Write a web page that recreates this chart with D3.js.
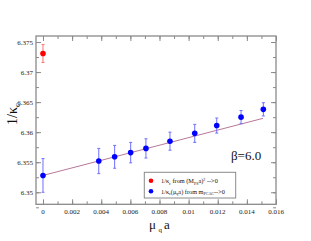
<!DOCTYPE html>
<html><head><meta charset="utf-8">
<script src="https://cdn.jsdelivr.net/npm/d3@7/dist/d3.min.js"></script>
<style>body{margin:0;background:#fff}svg{display:block}svg text{font-family:"Liberation Serif","Times New Roman",Times,"DejaVu Serif",serif}</style>
</head><body><svg id="c" width="311" height="241"></svg>
<script>
const xTicks = [0, 0.002, 0.004, 0.006, 0.008, 0.01, 0.012, 0.014, 0.016];
const xTickLabels = ["0", "0.002", "0.004", "0.006", "0.008", "0.01", "0.012", "0.014", "0.016"];
const yTicks = [6.35, 6.355, 6.36, 6.365, 6.37, 6.375];
const yTickLabels = ["6.35", "6.355", "6.36", "6.365", "6.37", "6.375"];
const redX = [0];
const redY = [6.3731];
const redErr = [0.0015];
const blueX = [0, 0.00383, 0.00492, 0.00602, 0.00707, 0.00872, 0.01042, 0.01193, 0.0136, 0.01513];
const blueY = [6.3528, 6.3552, 6.3559, 6.3566, 6.3573, 6.3585, 6.3598, 6.3611, 6.3625, 6.3638];
const blueErr = [0.0028, 0.0021, 0.0019, 0.0017, 0.0016, 0.0015, 0.0015, 0.00125, 0.0011, 0.0011];
const fitX = [0, 0.0151];
const fitY = [6.3528, 6.3623];

const svg = d3.select("#c");
const L = 36, R = 276, T = 36, B = 204.3;
const x = d3.scaleLinear().domain([-0.00048, 0.016]).range([L, R]);
const y = d3.scaleLinear().domain([6.348, 6.376]).range([B, T]);
const axisCol = "#8a8a8a";

svg.append("rect").attr("x", L).attr("y", T).attr("width", R - L).attr("height", B - T)
  .attr("fill", "none").attr("stroke", axisCol).attr("stroke-width", 1.3);

const xMinor = d3.range(0, 0.0165, 0.001);
const yMinor = d3.range(6.3475, 6.3761, 0.0025);
function ticks(g) { g.select(".domain").remove(); g.selectAll("line").attr("stroke", axisCol); g.selectAll("text").remove(); }
svg.append("g").attr("transform", `translate(0,${B})`).call(d3.axisBottom(x).tickValues(xMinor).tickSize(-3)).call(ticks);
svg.append("g").attr("transform", `translate(0,${B})`).call(d3.axisBottom(x).tickValues(xTicks).tickSize(-5)).call(ticks);
svg.append("g").attr("transform", `translate(0,${T})`).call(d3.axisTop(x).tickValues(xMinor).tickSize(-3)).call(ticks);
svg.append("g").attr("transform", `translate(0,${T})`).call(d3.axisTop(x).tickValues(xTicks).tickSize(-5)).call(ticks);
svg.append("g").attr("transform", `translate(${L},0)`).call(d3.axisLeft(y).tickValues(yMinor).tickSize(-3)).call(ticks);
svg.append("g").attr("transform", `translate(${L},0)`).call(d3.axisLeft(y).tickValues(yTicks).tickSize(-5)).call(ticks);
svg.append("g").attr("transform", `translate(${R},0)`).call(d3.axisRight(y).tickValues(yMinor).tickSize(-3)).call(ticks);
svg.append("g").attr("transform", `translate(${R},0)`).call(d3.axisRight(y).tickValues(yTicks).tickSize(-5)).call(ticks);

svg.append("g").selectAll("text").data(xTicks).join("text")
  .attr("x", d => x(d)).attr("y", B + 9.5).attr("text-anchor", "middle")
  .attr("font-size", 7).attr("fill", "#222").text((d, i) => xTickLabels[i]);
svg.append("g").selectAll("text").data(yTicks).join("text")
  .attr("x", L - 3).attr("y", d => y(d) + 2.5).attr("text-anchor", "end")
  .attr("font-size", 7).attr("fill", "#222").text((d, i) => yTickLabels[i]);

const yl = svg.append("text").attr("transform", `translate(17,114) rotate(-90)`)
  .attr("text-anchor", "middle").attr("font-size", 14).attr("fill", "#111");
yl.append("tspan").text("1/κ");
yl.append("tspan").attr("font-size", 9).attr("dy", 3).text("c");
svg.append("text").attr("x", 149).attr("y", 228.5).attr("font-size", 13).attr("fill", "#111").text("μ");
svg.append("text").attr("x", 158.5).attr("y", 232).attr("font-size", 7).attr("fill", "#111").text("q");
svg.append("text").attr("x", 164).attr("y", 228.5).attr("font-size", 13).attr("fill", "#111").text("a");

svg.append("line").attr("x1", x(fitX[0])).attr("y1", y(fitY[0])).attr("x2", x(fitX[1])).attr("y2", y(fitY[1]))
  .attr("stroke", "#b87898").attr("stroke-width", 1);

function series(xs, ys, es, col, ecol) {
  const g = svg.append("g");
  xs.forEach((xv, i) => {
    const cx = x(xv), y1 = y(ys[i] - es[i]), y2 = y(ys[i] + es[i]);
    g.append("line").attr("x1", cx).attr("x2", cx).attr("y1", y1).attr("y2", y2).attr("stroke", ecol).attr("stroke-width", 1);
    g.append("line").attr("x1", cx - 1.5).attr("x2", cx + 1.5).attr("y1", y1).attr("y2", y1).attr("stroke", ecol).attr("stroke-width", 1);
    g.append("line").attr("x1", cx - 1.5).attr("x2", cx + 1.5).attr("y1", y2).attr("y2", y2).attr("stroke", ecol).attr("stroke-width", 1);
    g.append("circle").attr("cx", cx).attr("cy", y(ys[i])).attr("r", 2.8).attr("fill", col);
  });
}
series(redX, redY, redErr, "#ff0000", "#ff7070");
series(blueX, blueY, blueErr, "#0000ff", "#6f6fff");

svg.append("text").attr("x", 231).attr("y", 160).attr("font-size", 13).attr("fill", "#111").text("β=6.0");

svg.append("rect").attr("x", 144.3).attr("y", 172.3).attr("width", 91.4).attr("height", 25.7)
  .attr("fill", "#fff").attr("stroke", axisCol).attr("stroke-width", 1);
svg.append("circle").attr("cx", 151).attr("cy", 180.7).attr("r", 2.3).attr("fill", "#ff0000");
svg.append("circle").attr("cx", 151).attr("cy", 191.3).attr("r", 2.3).attr("fill", "#0000ff");
const t1 = svg.append("text").attr("x", 161).attr("y", 183).attr("font-size", 6.3).attr("fill", "#111");
t1.append("tspan").text("1/κ");
t1.append("tspan").attr("font-size", 4).attr("dy", 1.5).text("c");
t1.append("tspan").attr("dy", -1.5).text(" from (M");
t1.append("tspan").attr("font-size", 4).attr("dy", 1.5).text("PS");
t1.append("tspan").attr("dy", -1.5).text("a)");
t1.append("tspan").attr("font-size", 4).attr("dy", -2.5).text("2");
t1.append("tspan").attr("dy", 2.5).text(" -->0");
const t2 = svg.append("text").attr("x", 161).attr("y", 193.5).attr("font-size", 6.3).attr("fill", "#111");
t2.append("tspan").text("1/κ");
t2.append("tspan").attr("font-size", 4).attr("dy", 1.5).text("c");
t2.append("tspan").attr("dy", -1.5).text("(μ");
t2.append("tspan").attr("font-size", 4).attr("dy", 1.5).text("q");
t2.append("tspan").attr("dy", -1.5).text("a) from m");
t2.append("tspan").attr("font-size", 4).attr("dy", 1.5).text("PCAC");
t2.append("tspan").attr("dy", -1.5).text("-->0");
</script></body></html>
